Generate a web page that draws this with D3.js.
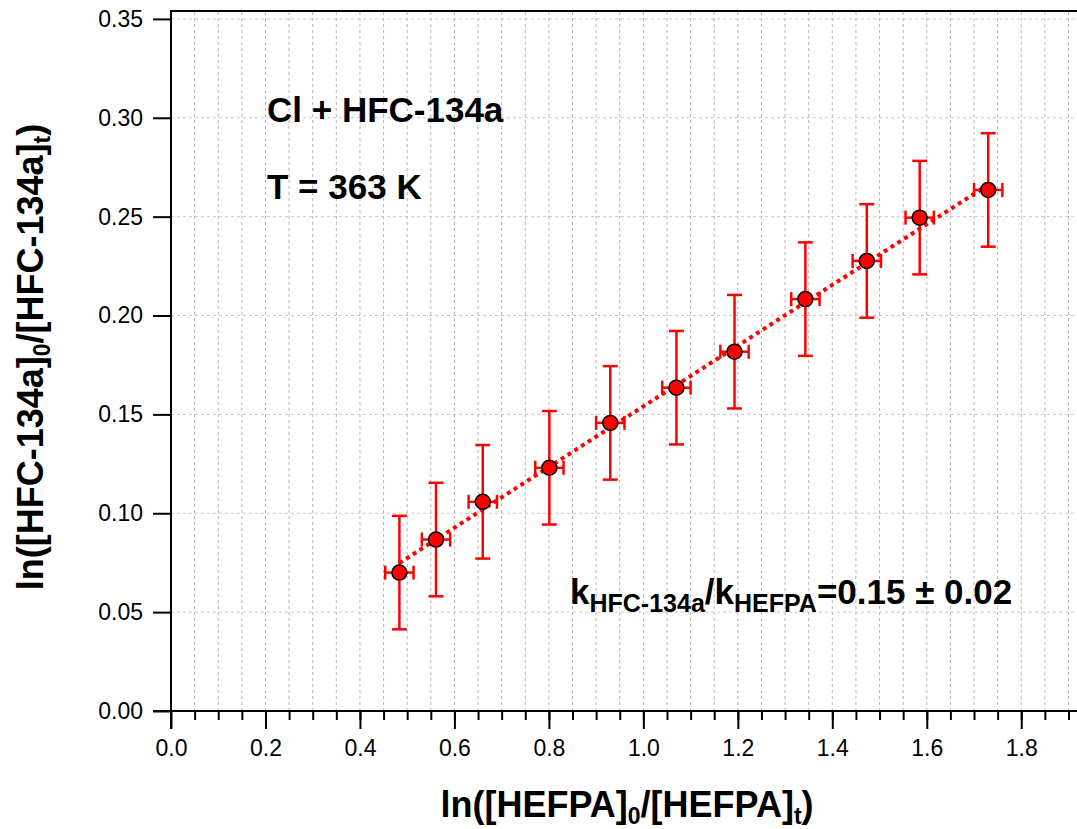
<!DOCTYPE html>
<html>
<head>
<meta charset="utf-8">
<script src="https://cdn.jsdelivr.net/npm/d3@7"></script>
<style>
  body { margin: 0; background: #fff; }
  svg { display: block; font-family: "Liberation Sans", Arial, sans-serif; }
</style>
</head>
<body>
<div id="chart"></div>
<script>
// data
const xVals = [0.4835, 0.561, 0.660, 0.801, 0.930, 1.070, 1.193, 1.343, 1.473, 1.585, 1.730];
const yVals = [0.0700, 0.0867, 0.1058, 0.1230, 0.1457, 0.1635, 0.1817, 0.2083, 0.2276, 0.2495, 0.2635];
const xErr = [0.03, 0.03, 0.03, 0.03, 0.03, 0.03, 0.03, 0.03, 0.03, 0.03, 0.03];
const yErr = [0.0287, 0.0287, 0.0287, 0.0287, 0.0287, 0.0287, 0.0287, 0.0287, 0.0287, 0.0287, 0.0287];
// fitted line end points
const fitX = [0.4835, 1.730];
const fitY = [0.0748, 0.2661];
const xTicks = [0, 0.2, 0.4, 0.6, 0.8, 1.0, 1.2, 1.4, 1.6, 1.8];
const yTicks = [0, 0.05, 0.10, 0.15, 0.20, 0.25, 0.30, 0.35];

const width = 1077, height = 829;
const margin = { top: 11, right: 0, bottom: 118, left: 171 };

const svg = d3.select("#chart").append("svg")
  .attr("width", width)
  .attr("height", height);

const x = d3.scaleLinear().domain([0, 1.918]).range([margin.left, width - margin.right]);
const y = d3.scaleLinear().domain([0, 0.354]).range([height - margin.bottom, margin.top]);

const red = "#ff0000";
const points = xVals.map((v, i) => ({ x: v, y: yVals[i], ex: xErr[i], ey: yErr[i] }));

// grid
const minorX = d3.range(0.05, 1.92, 0.05);
svg.append("g")
  .selectAll("line")
  .data(minorX)
  .join("line")
  .attr("x1", d => x(d)).attr("x2", d => x(d))
  .attr("y1", y(0)).attr("y2", y(0.354))
  .attr("stroke", "#b4b4b4")
  .attr("stroke-width", 1)
  .attr("stroke-dasharray", "3,3");

svg.append("g")
  .selectAll("line")
  .data(yTicks.slice(1))
  .join("line")
  .attr("x1", x(0)).attr("x2", width)
  .attr("y1", d => y(d)).attr("y2", d => y(d))
  .attr("stroke", "#c8c8c8")
  .attr("stroke-width", 1)
  .attr("stroke-dasharray", "3,3");

// x axis, major + minor ticks
const xAxisG = svg.append("g").attr("transform", `translate(0,${y(0)})`);
xAxisG.call(d3.axisBottom(x).tickValues(minorX).tickSize(9).tickFormat(""));
xAxisG.call(g => g.append("g").call(d3.axisBottom(x).tickValues(xTicks).tickSize(18).tickFormat(d3.format(".1f"))));
xAxisG.selectAll(".domain").remove();
xAxisG.selectAll("line").attr("stroke", "#000").attr("stroke-width", 2);
xAxisG.selectAll("text")
  .attr("fill", "#000")
  .attr("font-size", 23)
  .attr("font-family", "Liberation Sans, Arial, sans-serif")
  .attr("y", 29);

// y axis
const yAxisG = svg.append("g").attr("transform", `translate(${x(0)},0)`);
yAxisG.call(d3.axisLeft(y).tickValues(yTicks).tickSize(18).tickFormat(d3.format(".2f")));
yAxisG.selectAll(".domain").remove();
yAxisG.selectAll("line").attr("stroke", "#000").attr("stroke-width", 2);
yAxisG.selectAll("text")
  .attr("fill", "#000")
  .attr("font-size", 23)
  .attr("font-family", "Liberation Sans, Arial, sans-serif")
  .attr("x", -28);

// frame lines
svg.append("line")
  .attr("x1", x(0) - 18).attr("x2", width)
  .attr("y1", y(0)).attr("y2", y(0))
  .attr("stroke", "#000").attr("stroke-width", 2);
svg.append("line")
  .attr("x1", x(0)).attr("x2", width)
  .attr("y1", y(0.354)).attr("y2", y(0.354))
  .attr("stroke", "#000").attr("stroke-width", 2);
svg.append("line")
  .attr("x1", x(0)).attr("x2", x(0))
  .attr("y1", y(0.354) - 1).attr("y2", y(0) + 18)
  .attr("stroke", "#000").attr("stroke-width", 2);

// fit line
svg.append("line")
  .attr("x1", x(fitX[0])).attr("y1", y(fitY[0]))
  .attr("x2", x(fitX[1])).attr("y2", y(fitY[1]))
  .attr("stroke", red)
  .attr("stroke-width", 4)
  .attr("stroke-dasharray", "4,4");

// error bars
const eb = svg.append("g").attr("stroke", red).attr("stroke-width", 2.5);
points.forEach(p => {
  const cx = x(p.x), cy = y(p.y);
  const y1 = y(p.y + p.ey), y2 = y(p.y - p.ey);
  const x1 = x(p.x - p.ex), x2 = x(p.x + p.ex);
  eb.append("line").attr("x1", cx).attr("x2", cx).attr("y1", y1).attr("y2", y2);
  eb.append("line").attr("x1", cx - 7.5).attr("x2", cx + 7.5).attr("y1", y1).attr("y2", y1);
  eb.append("line").attr("x1", cx - 7.5).attr("x2", cx + 7.5).attr("y1", y2).attr("y2", y2);
  eb.append("line").attr("x1", x1).attr("x2", x2).attr("y1", cy).attr("y2", cy);
  eb.append("line").attr("x1", x1).attr("x2", x1).attr("y1", cy - 7).attr("y2", cy + 7);
  eb.append("line").attr("x1", x2).attr("x2", x2).attr("y1", cy - 7).attr("y2", cy + 7);
});

// markers
svg.append("g")
  .selectAll("circle")
  .data(points)
  .join("circle")
  .attr("cx", d => x(d.x))
  .attr("cy", d => y(d.y))
  .attr("r", 7.5)
  .attr("fill", red)
  .attr("stroke", "#000")
  .attr("stroke-width", 1.5);

// annotations
svg.append("text").attr("x", 267).attr("y", 122)
  .attr("font-size", 35).attr("font-weight", "bold")
  .text("Cl + HFC-134a");
svg.append("text").attr("x", 267).attr("y", 199)
  .attr("font-size", 35).attr("font-weight", "bold")
  .text("T = 363 K");

const kText = svg.append("text").attr("x", 570).attr("y", 604)
  .attr("font-size", 35).attr("font-weight", "bold");
kText.append("tspan").text("k");
kText.append("tspan").attr("font-size", 25).attr("dy", 8).text("HFC-134a");
kText.append("tspan").attr("dy", -8).text("/k");
kText.append("tspan").attr("font-size", 25).attr("dy", 8).text("HEFPA");
kText.append("tspan").attr("dy", -8).text("=0.15 ± 0.02");

// axis titles
const xt = svg.append("text")
  .attr("x", 627).attr("y", 817)
  .attr("text-anchor", "middle")
  .attr("font-size", 36).attr("font-weight", "bold");
xt.append("tspan").text("ln([HEFPA]");
xt.append("tspan").attr("font-size", 23).attr("dy", 7).text("0");
xt.append("tspan").attr("dy", -7).text("/[HEFPA]");
xt.append("tspan").attr("font-size", 23).attr("dy", 7).text("t");
xt.append("tspan").attr("dy", -7).text(")");

const yt = svg.append("text")
  .attr("transform", "translate(43,357) rotate(-90)")
  .attr("text-anchor", "middle")
  .attr("font-size", 36).attr("font-weight", "bold");
yt.append("tspan").text("ln([HFC-134a]");
yt.append("tspan").attr("font-size", 23).attr("dy", 7).text("0");
yt.append("tspan").attr("dy", -7).text("/[HFC-134a]");
yt.append("tspan").attr("font-size", 23).attr("dy", 7).text("t");
yt.append("tspan").attr("dy", -7).text(")");
</script>
</body>
</html>
